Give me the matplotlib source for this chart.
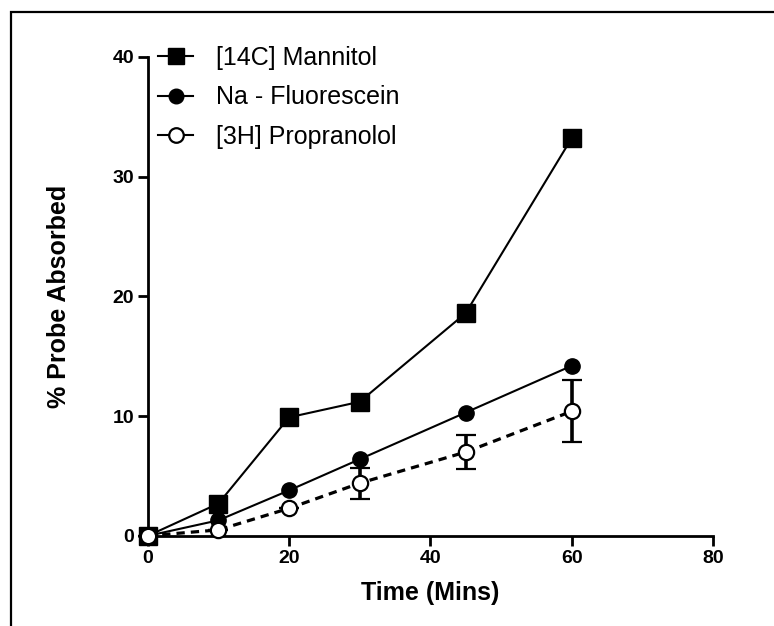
import matplotlib
matplotlib.use("Agg")
from matplotlib import pyplot as plt
from matplotlib.patches import Rectangle
from matplotlib.lines import Line2D

plt.rcParams['font.family'] = ['Liberation Sans', 'DejaVu Sans']

# time points (mins)
time = [0, 10, 20, 30, 45, 60]

mannitol = [0, 2.7, 9.9, 11.2, 18.6, 33.2]
fluorescein = [0, 1.3, 3.8, 6.4, 10.3, 14.2]
propranolol = [0, 0.5, 2.3, 4.4, 7.0, 10.4]
propranolol_err = [0, 0, 0, 1.3, 1.4, 2.6]

labels = ['[14C] Mannitol', 'Na - Fluorescein', '[3H] Propranolol']

fig = plt.figure(figsize=(7.74, 6.26), dpi=100)
ax = fig.add_axes([0.191, 0.144, 0.73, 0.765])

# frame around the whole picture
fig.patches.append(Rectangle((11 / 774, -0.05), 1.2, 1 - 12 / 626 + 0.05,
                             transform=fig.transFigure, fill=False,
                             edgecolor='black', linewidth=1.6))

ax.plot(time, mannitol, '-s', color='black', lw=1.5, ms=12.5,
        zorder=3, clip_on=False)
ax.plot(time, fluorescein, '-o', color='black', lw=1.5, ms=11,
        zorder=3, clip_on=False)
ax.errorbar(time, propranolol, yerr=propranolol_err, fmt='--o', color='black',
            mfc='white', mec='black', mew=1.6, lw=2.3, ms=11, dashes=(2.6, 1.9),
            elinewidth=2.6, capsize=7, capthick=2.6, zorder=4, clip_on=False)

ax.set_xlim(0, 80)
ax.set_ylim(0, 40)
ax.set_xticks([0, 20, 40, 60, 80])
ax.set_yticks([0, 10, 20, 30, 40])
for s in ['top', 'right']:
    ax.spines[s].set_visible(False)
for s in ['left', 'bottom']:
    ax.spines[s].set_linewidth(2)
ax.tick_params(direction='out', length=7, width=2, labelsize=14, pad=3)
for lab in ax.get_xticklabels() + ax.get_yticklabels():
    lab.set_fontweight('bold')

ax.set_xlabel('Time (Mins)', fontsize=18, fontweight='bold', labelpad=10)
ax.set_ylabel('% Probe Absorbed', fontsize=18, fontweight='bold', labelpad=30)

handles = [
    Line2D([], [], color='black', lw=1.5, marker='s', ms=12),
    Line2D([], [], color='black', lw=1.5, marker='o', ms=10.5),
    Line2D([], [], color='black', lw=1.5, marker='o', ms=10.5,
           mfc='white', mec='black', mew=1.6),
]
ax.legend(handles, labels, loc='upper left',
          bbox_to_anchor=(158 / 774, 1 - 46 / 626), bbox_transform=fig.transFigure,
          frameon=False, fontsize=18, handlelength=1.4, handletextpad=0.9,
          labelspacing=0.62, borderpad=0, borderaxespad=0)

plt.savefig('out.png', dpi=100)
